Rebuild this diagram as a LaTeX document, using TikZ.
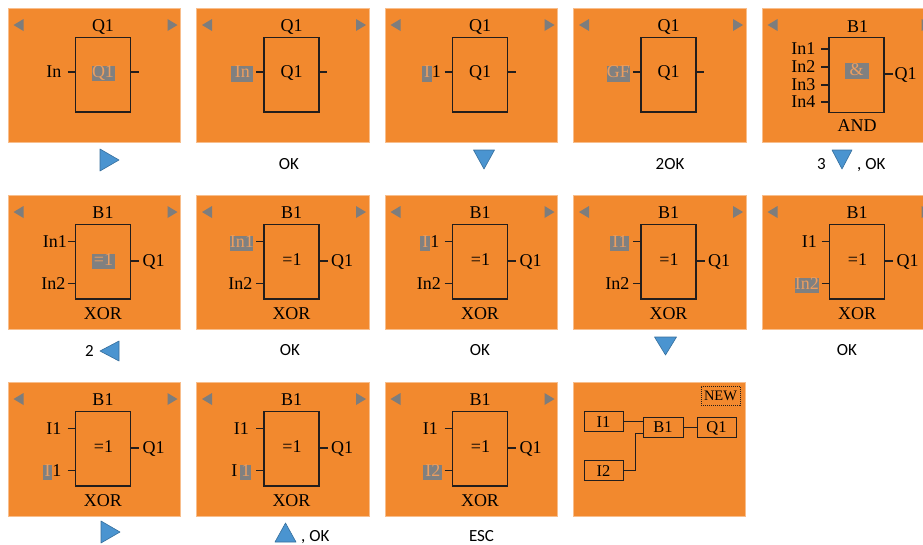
\documentclass[tikz,border=0pt]{standalone}
\usepackage{fontspec}
\setmainfont{Liberation Serif}
\newfontfamily\keyfont{Carlito}
\usetikzlibrary{positioning}

\definecolor{panelorange}{RGB}{242,137,46}
\definecolor{scrollgray}{RGB}{125,125,125}
\definecolor{selgray}{RGB}{128,128,128}
\definecolor{seltext}{RGB}{236,158,96}
\definecolor{blockline}{RGB}{35,30,28}
\definecolor{keyblue}{RGB}{74,148,208}

% cursor field on the display
\newcommand{\selbox}[2]{{\setlength{\fboxsep}{0pt}%
  \colorbox{selgray}{\rule[-3.6pt]{0pt}{15.5pt}\makebox[#1]{\textcolor{seltext}{#2}}}}}

\tikzset{
  panel/.style={fill=panelorange, draw=panelorange!55!white, line width=0.8pt},
  scroll/.style={fill=scrollgray},
  block/.style={draw=blockline, line width=1.2pt, minimum width=55pt, minimum height=74.5pt, inner sep=0pt},
  lead/.style={draw=blockline, line width=1.2pt},
  link/.style={draw=blockline, line width=0.9pt},
  txt/.style={font=\fontsize{18}{20}\selectfont, text height=11.9pt, text depth=0pt, inner sep=0pt},
  keylabel/.style={font=\keyfont\fontsize{17}{20}\selectfont, text height=10.9pt, text depth=0pt, inner sep=0pt},
  keytri/.style={fill=keyblue, draw=keyblue!75!black, line width=0.6pt, line join=round},
  prog/.style={draw=blockline, line width=0.9pt, font=\fontsize{16.5}{18}\selectfont, minimum width=39pt, minimum height=20pt, inner sep=0pt, text height=11pt, text depth=0pt},
}

\begin{document}
\begin{tikzpicture}[x=1pt, y=-1pt]
	\useasboundingbox (0,0) rectangle (923,544);
	%panels
	\foreach \x/\y in {0/0,1/0,2/0,3/0,4/0,0/1,1/1,2/1,3/1,4/1,0/2,1/2,2/2}
	{
		\begin{scope}[shift={(8+188.5*\x,8+187*\y)}]
			\draw[panel] (0,0) rectangle (172.5,134.5);
			\fill[scroll] (5.5,17) -- (15.5,11) -- (15.5,23) -- cycle;
			\fill[scroll] (169.5,17) -- (159.5,11) -- (159.5,23) -- cycle;
		\end{scope}
	}
	\draw[panel] (573,382) rectangle ++(172.5,134.5);
	
	%output blocks
	\foreach \x/\sym/\ina/\ea in {0/{\selbox{23pt}{Q1}}/In/53.5,
		1/Q1/{\selbox{22pt}{In}}/57,
		2/Q1/{\selbox{9.5pt}{I}1}/56,
		3/Q1/{\selbox{23pt}{GF}}/56.5}
	{
		\begin{scope}[shift={(8+188.5*\x,8)}]
			\node[txt] (qt\x) at (95,18) {Q1};
			\node[block] (qb\x) at (95,66.75) {};
			\node[txt] (qm\x) at (95,63.5) {\sym};
			\coordinate (qi\x) at (59.5,64);
			\coordinate (qo\x) at (130.5,64);
			\draw[lead] (qi\x) -- (qi\x -| qb\x.west);
			\draw[lead] (qb\x.east |- qo\x) -- (qo\x);
			\node[txt, anchor=east] (ql\x) at (\ea,64) {\ina};
		\end{scope}
	}
	
	%and block
	\begin{scope}[shift={(762,8)}]
		\node[txt] (andtitle) at (95.5,18.5) {B1};
		\node[block] (andbox) at (94.5,67) {};
		\node[txt] (andsym) at (94.5,61.5) {\selbox{24pt}{\&}};
		\foreach \k/\y in {1/41,2/59,3/77,4/94}
		{
			\coordinate (andin\k) at (59,\y);
			\draw[lead] (andin\k) -- (andin\k -| andbox.west);
			\node[txt, anchor=east] (andlabel\k) at (53.5,\y) {In\k};
		}
		\coordinate (andout) at (131,66);
		\draw[lead] (andbox.east |- andout) -- (andout);
		\node[txt, anchor=west] (andq) at (132.5,66) {Q1};
		\node[txt] (andname) at (95,117.5) {AND};
	\end{scope}
	
	%xor blocks
	\foreach \x/\y/\sym/\ina/\ea/\inb/\eb in {0/1/{\selbox{23pt}{=1}}/In1/59/In2/57.5,
		1/1/=1/{\selbox{23pt}{In1}}/57/In2/56,
		2/1/=1/{\selbox{10pt}{I}1}/54.5/In2/56,
		3/1/=1/{\selbox{19pt}{I1}}/56/In2/56,
		4/1/=1/I1/55/{\selbox{24pt}{In2}}/57,
		0/2/=1/I1/53.5/{\selbox{9.5pt}{I}1}/53.5,
		1/2/=1/I1/52.5/{I\,\selbox{11pt}{1}}/55,
		2/2/=1/I1/53/{\selbox{19pt}{I2}}/57.5}
	{
		\begin{scope}[shift={(8+188.5*\x,8+187*\y)}]
			\node[txt] (xt\x\y) at (95,18) {B1};
			\node[block] (xb\x\y) at (95,66.75) {};
			\node[txt] (xm\x\y) at (95.5,64.5) {\sym};
			\coordinate (xa\x\y) at (59.5,46.5);
			\coordinate (xz\x\y) at (59.5,88.5);
			\coordinate (xo\x\y) at (131,66);
			\draw[lead] (xa\x\y) -- (xa\x\y -| xb\x\y.west);
			\draw[lead] (xz\x\y) -- (xz\x\y -| xb\x\y.west);
			\draw[lead] (xb\x\y.east |- xo\x\y) -- (xo\x\y);
			\node[txt, anchor=east] (xla\x\y) at (\ea,46.5) {\ina};
			\node[txt, anchor=east] (xlb\x\y) at (\eb,88.5) {\inb};
			\node[txt, anchor=west] (xq\x\y) at (134.5,66) {Q1};
			\node[txt] (xn\x\y) at (95,118.5) {XOR};
		\end{scope}
	}
	
	%program view
	\begin{scope}[shift={(573,382)}]
		\node[draw=blockline, dash pattern=on 1pt off 1pt, line width=0.8pt, font=\fontsize{14.5}{16}\selectfont,
			minimum width=39pt, minimum height=19pt, inner sep=0pt, text height=9.6pt, text depth=0pt] (new) at (147.5,13.5) {NEW};
		\node[prog] (ni1) at (30.5,39.5) {I1};
		\node[prog] (ni2) at (30.5,88.5) {I2};
		\node[prog, minimum width=40pt] (nb1) at (90,45) {B1};
		\node[prog] (nq1) at (143.5,45) {Q1};
		\coordinate (bend) at (62.5,51);
		\draw[link] (ni1.east) -- (ni1.east -| nb1.west);
		\draw[link] (ni2.east) -| (bend) -- (bend -| nb1.west);
		\draw[link] (nb1) -- (nq1);
	\end{scope}
	
	%keys
	\path[keytri] (100,149) -- (119,160) -- (100,171) -- cycle;
	\node[keylabel] (k2) at (289,164) {OK};
	\path[keytri] (473.5,150) -- (494.5,150) -- (484,169) -- cycle;
	\node[keylabel] (k4) at (670,164) {2OK};
	\node[keylabel] (k5a) at (821.5,164) {3};
	\path[keytri] (832,150) -- (852,150) -- (842,169) -- cycle;
	\node[keylabel, anchor=west] (k5b) at (857,164) {, OK};
	
	\node[keylabel] (k6) at (89.5,351) {2};
	\path[keytri] (119,341) -- (100,351) -- (119,361) -- cycle;
	\node[keylabel] (k7) at (290,350) {OK};
	\node[keylabel] (k8) at (480,350) {OK};
	\path[keytri] (654.5,337) -- (676.5,337) -- (665.5,355) -- cycle;
	\node[keylabel] (k10) at (847,350) {OK};
	
	\path[keytri] (101,521) -- (120,532) -- (101,543) -- cycle;
	\path[keytri] (275,542) -- (296,542) -- (285.5,523) -- cycle;
	\node[keylabel, anchor=west] (k12) at (301,536) {, OK};
	\node[keylabel] (k13) at (481.5,536) {ESC};
\end{tikzpicture}
\end{document}
